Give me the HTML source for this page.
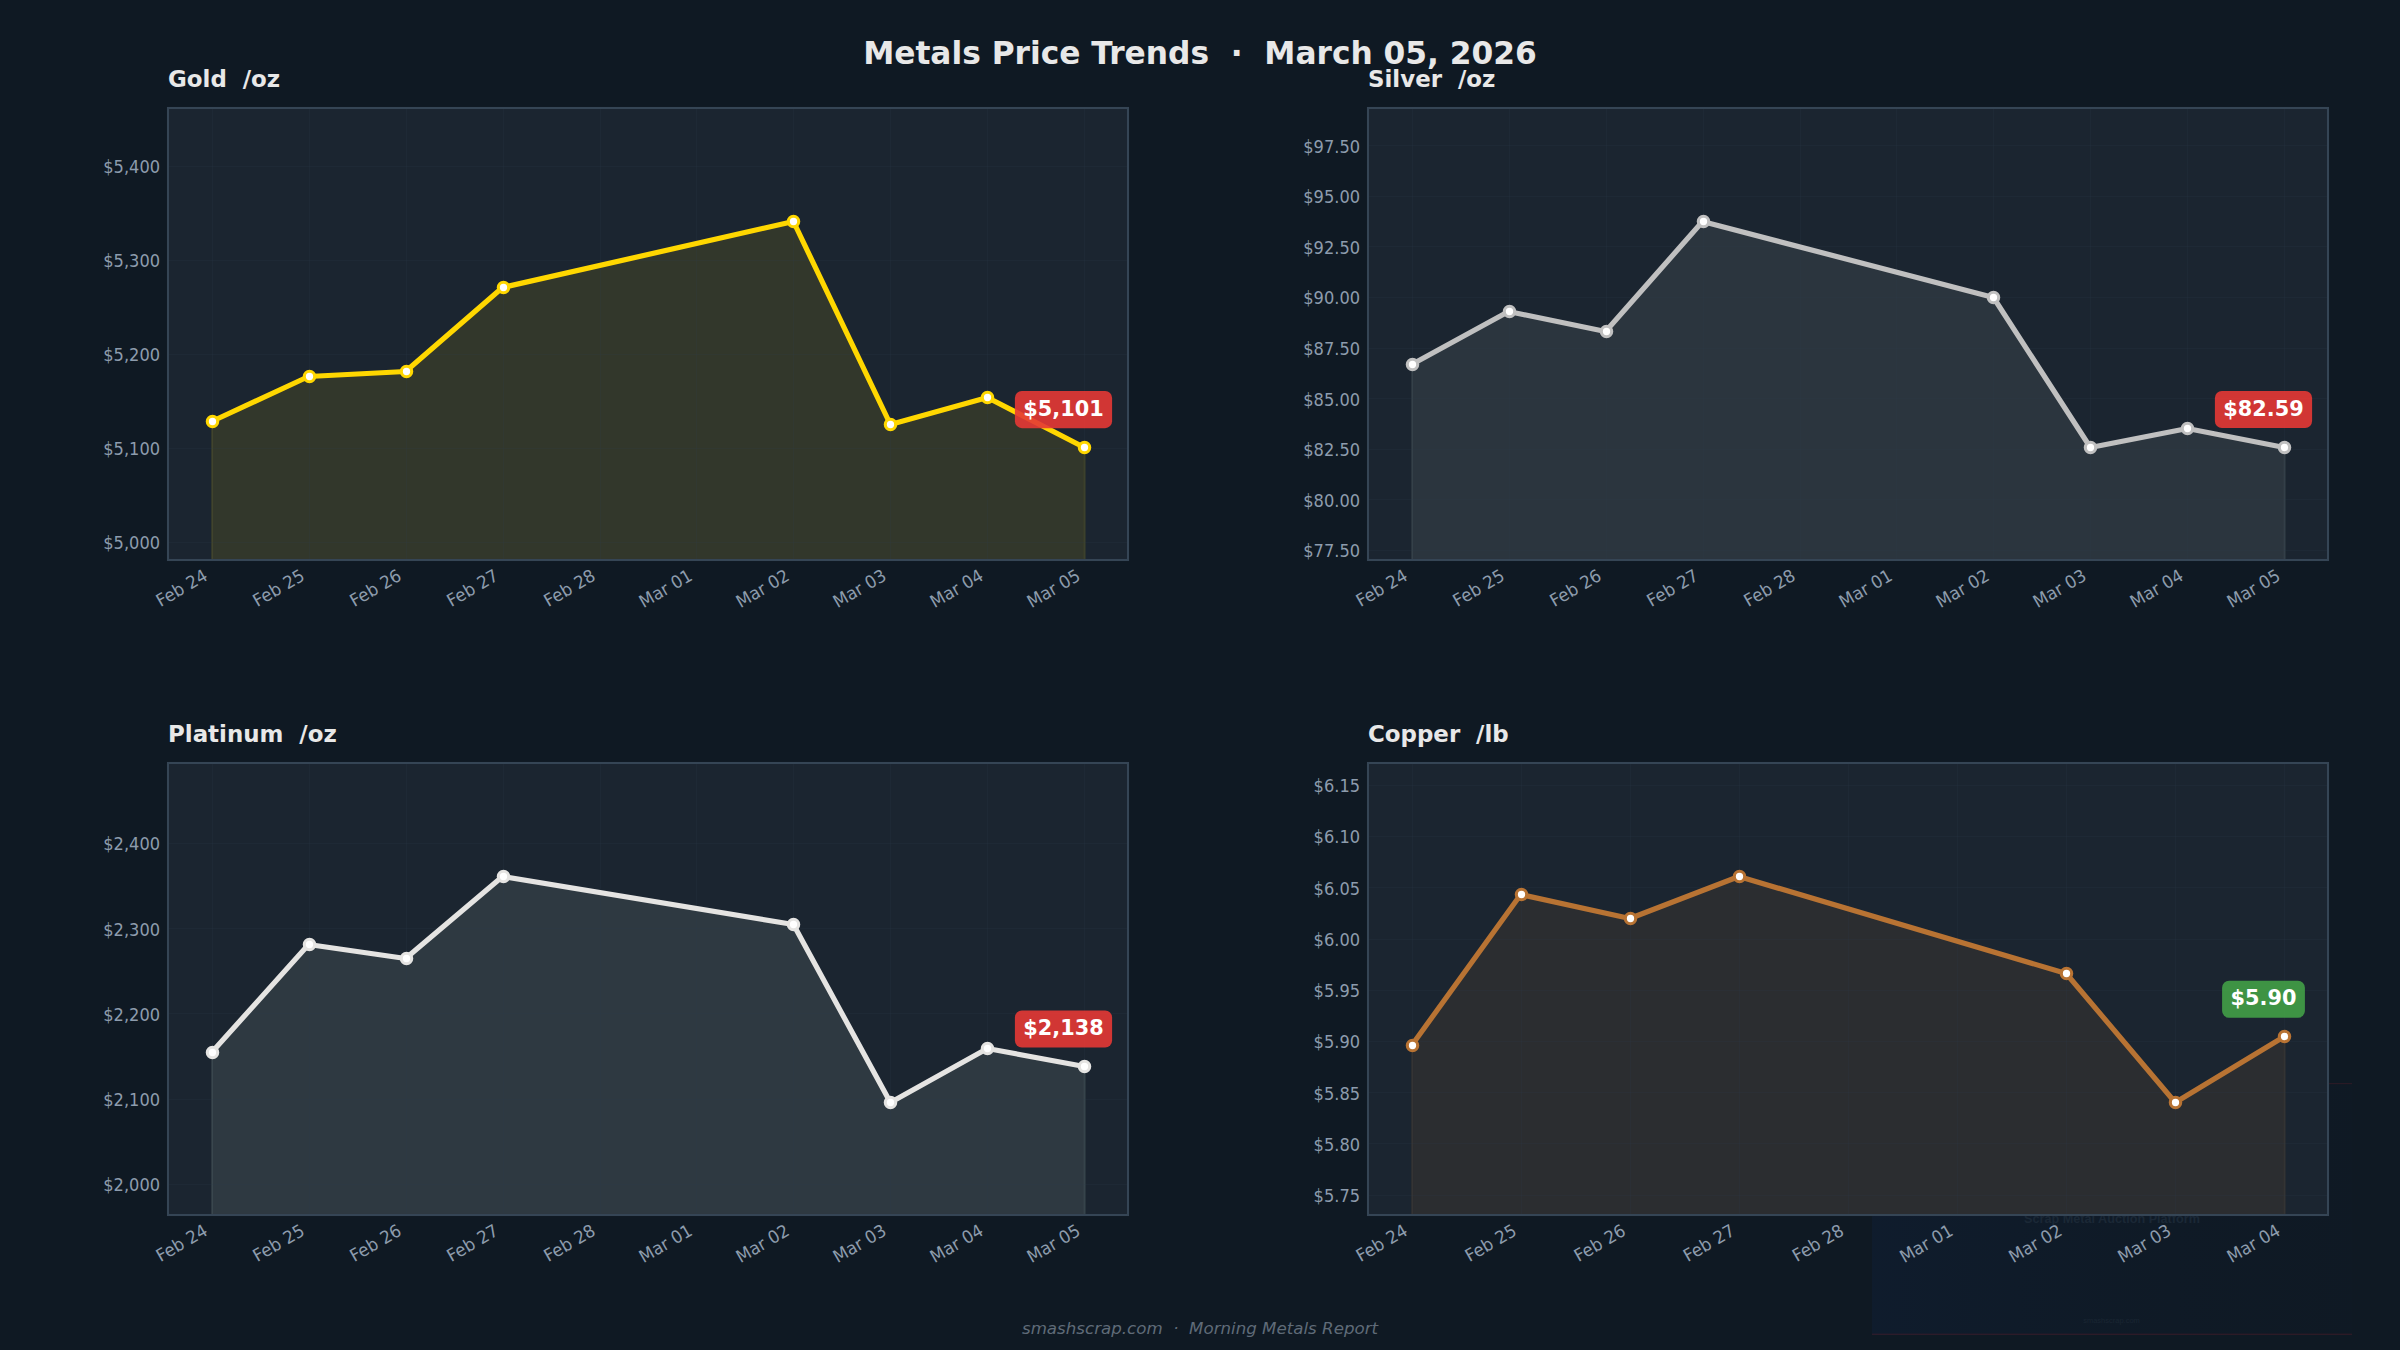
<!DOCTYPE html>
<html lang="en"><head><meta charset="utf-8"><title>Metals Price Trends</title>
<style>html,body{margin:0;padding:0;background:#0f1923;}body{width:2400px;height:1350px;overflow:hidden;}svg{display:block;}text{white-space:pre;}</style></head>
<body>
<svg width="2400" height="1350" viewBox="0 0 2400 1350" font-family="'DejaVu Sans', 'Liberation Sans', sans-serif">
<rect width="2400" height="1350" fill="#0f1923"/>
<defs><linearGradient id="wm" x1="0" y1="0" x2="1" y2="0"><stop offset="0" stop-color="#0f1d30" stop-opacity="0.75"/><stop offset="0.55" stop-color="#0f1c2c" stop-opacity="0.4"/><stop offset="1" stop-color="#0f1a27" stop-opacity="0.25"/></linearGradient></defs>
<g><rect x="1872" y="1083" width="480" height="252" fill="url(#wm)"/><rect x="1872" y="1083" width="480" height="1.2" fill="#4a1c28" opacity="0.45"/><rect x="1872" y="1333.6" width="480" height="1.4" fill="#4a1c28" opacity="0.5"/><text x="2112" y="1223" text-anchor="middle" font-family="'Liberation Sans', sans-serif" font-size="12.65" font-weight="bold" fill="#1b2836">Scrap Metal Auction Platform</text><text x="2111.5" y="1322.5" text-anchor="middle" font-family="'Liberation Sans', sans-serif" font-size="7.5" fill="#1a2633">smashscrap.com</text></g>
<g id="chart0">
<rect x="168" y="108" width="960" height="452" fill="#1b2530"/>
<clipPath id="cp0"><rect x="168" y="108" width="960" height="452"/></clipPath>
<polygon clip-path="url(#cp0)" points="212.04,560 212.04,421.50 211.64,421.50 308.61,376.50 405.58,371.50 502.55,287.50 793.45,221.50 890.42,424.50 987.39,397.50 1084.36,447.50 1084.76,447.50 1084.76,560" fill="#ffd700" fill-opacity="0.1" stroke="#ffd700" stroke-opacity="0.1" stroke-width="2.08" stroke-linejoin="miter"/>
<path d="M212.5 108V560M309.5 108V560M406.5 108V560M503.5 108V560M600.5 108V560M696.5 108V560M793.5 108V560M890.5 108V560M987.5 108V560M1084.5 108V560M168 542.5H1128M168 448.5H1128M168 354.5H1128M168 260.5H1128M168 166.5H1128" stroke="#2c3e50" stroke-opacity="0.18" stroke-width="1" fill="none"/>
<polyline points="211.64,421.50 308.61,376.50 405.58,371.50 502.55,287.50 793.45,221.50 890.42,424.50 987.39,397.50 1084.36,447.50" fill="none" stroke="#ffd700" stroke-width="5.21" stroke-linejoin="round" stroke-linecap="butt"/>
<circle cx="212.5" cy="421.5" r="5.21" fill="#ffffff" stroke="#ffd700" stroke-width="3.125"/>
<circle cx="309.5" cy="376.5" r="5.21" fill="#ffffff" stroke="#ffd700" stroke-width="3.125"/>
<circle cx="406.5" cy="371.5" r="5.21" fill="#ffffff" stroke="#ffd700" stroke-width="3.125"/>
<circle cx="503.5" cy="287.5" r="5.21" fill="#ffffff" stroke="#ffd700" stroke-width="3.125"/>
<circle cx="793.5" cy="221.5" r="5.21" fill="#ffffff" stroke="#ffd700" stroke-width="3.125"/>
<circle cx="890.5" cy="424.5" r="5.21" fill="#ffffff" stroke="#ffd700" stroke-width="3.125"/>
<circle cx="987.5" cy="397.5" r="5.21" fill="#ffffff" stroke="#ffd700" stroke-width="3.125"/>
<circle cx="1084.5" cy="447.5" r="5.21" fill="#ffffff" stroke="#ffd700" stroke-width="3.125"/>
<rect x="168" y="108" width="960" height="452" fill="none" stroke="#354555" stroke-width="2.08"/>
<rect x="1014.90" y="391.05" width="97.2" height="37.1" rx="7" ry="7" fill="#e53935" fill-opacity="0.9"/>
<text x="1063.50" y="415.70" text-anchor="middle" font-size="20.833" font-weight="bold" fill="#ffffff">$5,101</text>
<text x="168" y="87.0" font-size="22.917" font-weight="bold" fill="#e8e8e8" xml:space="preserve">Gold  /oz</text>
<text transform="translate(160.10,549.40) scale(0.975,1.06)" text-anchor="end" font-size="16.667" fill="#8d9cad">$5,000</text>
<text transform="translate(160.10,455.30) scale(0.975,1.06)" text-anchor="end" font-size="16.667" fill="#8d9cad">$5,100</text>
<text transform="translate(160.10,361.20) scale(0.975,1.06)" text-anchor="end" font-size="16.667" fill="#8d9cad">$5,200</text>
<text transform="translate(160.10,267.10) scale(0.975,1.06)" text-anchor="end" font-size="16.667" fill="#8d9cad">$5,300</text>
<text transform="translate(160.10,173.00) scale(0.975,1.06)" text-anchor="end" font-size="16.667" fill="#8d9cad">$5,400</text>
<text transform="translate(160.38,607.25) rotate(-30) scale(1,1.05)" font-size="16.667" fill="#8d9cad">Feb 24</text>
<text transform="translate(257.35,607.25) rotate(-30) scale(1,1.05)" font-size="16.667" fill="#8d9cad">Feb 25</text>
<text transform="translate(354.32,607.25) rotate(-30) scale(1,1.05)" font-size="16.667" fill="#8d9cad">Feb 26</text>
<text transform="translate(451.29,607.25) rotate(-30) scale(1,1.05)" font-size="16.667" fill="#8d9cad">Feb 27</text>
<text transform="translate(548.26,607.25) rotate(-30) scale(1,1.05)" font-size="16.667" fill="#8d9cad">Feb 28</text>
<text transform="translate(643.55,608.22) rotate(-30) scale(1,1.05)" font-size="16.667" fill="#8d9cad">Mar 01</text>
<text transform="translate(740.52,608.22) rotate(-30) scale(1,1.05)" font-size="16.667" fill="#8d9cad">Mar 02</text>
<text transform="translate(837.49,608.22) rotate(-30) scale(1,1.05)" font-size="16.667" fill="#8d9cad">Mar 03</text>
<text transform="translate(934.46,608.22) rotate(-30) scale(1,1.05)" font-size="16.667" fill="#8d9cad">Mar 04</text>
<text transform="translate(1031.43,608.22) rotate(-30) scale(1,1.05)" font-size="16.667" fill="#8d9cad">Mar 05</text>
</g>
<g id="chart1">
<rect x="1368" y="108" width="960" height="452" fill="#1b2530"/>
<clipPath id="cp1"><rect x="1368" y="108" width="960" height="452"/></clipPath>
<polygon clip-path="url(#cp1)" points="1412.04,560 1412.04,364.50 1411.64,364.50 1508.61,311.50 1605.58,331.50 1702.55,221.50 1993.45,297.50 2090.42,447.50 2187.39,428.50 2284.36,447.50 2284.76,447.50 2284.76,560" fill="rgb(187,197,188)" fill-opacity="0.1" stroke="rgb(187,197,188)" stroke-opacity="0.1" stroke-width="2.08" stroke-linejoin="miter"/>
<path d="M1412.5 108V560M1509.5 108V560M1606.5 108V560M1703.5 108V560M1800.5 108V560M1896.5 108V560M1993.5 108V560M2090.5 108V560M2187.5 108V560M2284.5 108V560M1368 550.5H2328M1368 499.5H2328M1368 449.5H2328M1368 398.5H2328M1368 348.5H2328M1368 297.5H2328M1368 246.5H2328M1368 196.5H2328M1368 145.5H2328" stroke="#2c3e50" stroke-opacity="0.18" stroke-width="1" fill="none"/>
<polyline points="1411.64,364.50 1508.61,311.50 1605.58,331.50 1702.55,221.50 1993.45,297.50 2090.42,447.50 2187.39,428.50 2284.36,447.50" fill="none" stroke="#c0c0c0" stroke-width="5.21" stroke-linejoin="round" stroke-linecap="butt"/>
<circle cx="1412.5" cy="364.5" r="5.21" fill="#ffffff" stroke="#c0c0c0" stroke-width="3.125"/>
<circle cx="1509.5" cy="311.5" r="5.21" fill="#ffffff" stroke="#c0c0c0" stroke-width="3.125"/>
<circle cx="1606.5" cy="331.5" r="5.21" fill="#ffffff" stroke="#c0c0c0" stroke-width="3.125"/>
<circle cx="1703.5" cy="221.5" r="5.21" fill="#ffffff" stroke="#c0c0c0" stroke-width="3.125"/>
<circle cx="1993.5" cy="297.5" r="5.21" fill="#ffffff" stroke="#c0c0c0" stroke-width="3.125"/>
<circle cx="2090.5" cy="447.5" r="5.21" fill="#ffffff" stroke="#c0c0c0" stroke-width="3.125"/>
<circle cx="2187.5" cy="428.5" r="5.21" fill="#ffffff" stroke="#c0c0c0" stroke-width="3.125"/>
<circle cx="2284.5" cy="447.5" r="5.21" fill="#ffffff" stroke="#c0c0c0" stroke-width="3.125"/>
<rect x="1368" y="108" width="960" height="452" fill="none" stroke="#354555" stroke-width="2.08"/>
<rect x="2214.90" y="390.95" width="97.2" height="37.1" rx="7" ry="7" fill="#e53935" fill-opacity="0.9"/>
<text x="2263.50" y="415.60" text-anchor="middle" font-size="20.833" font-weight="bold" fill="#ffffff">$82.59</text>
<text x="1368" y="87.0" font-size="22.917" font-weight="bold" fill="#e8e8e8" xml:space="preserve">Silver  /oz</text>
<text transform="translate(1360.10,557.37) scale(0.975,1.06)" text-anchor="end" font-size="16.667" fill="#8d9cad">$77.50</text>
<text transform="translate(1360.10,506.78) scale(0.975,1.06)" text-anchor="end" font-size="16.667" fill="#8d9cad">$80.00</text>
<text transform="translate(1360.10,456.19) scale(0.975,1.06)" text-anchor="end" font-size="16.667" fill="#8d9cad">$82.50</text>
<text transform="translate(1360.10,405.60) scale(0.975,1.06)" text-anchor="end" font-size="16.667" fill="#8d9cad">$85.00</text>
<text transform="translate(1360.10,355.01) scale(0.975,1.06)" text-anchor="end" font-size="16.667" fill="#8d9cad">$87.50</text>
<text transform="translate(1360.10,304.42) scale(0.975,1.06)" text-anchor="end" font-size="16.667" fill="#8d9cad">$90.00</text>
<text transform="translate(1360.10,253.83) scale(0.975,1.06)" text-anchor="end" font-size="16.667" fill="#8d9cad">$92.50</text>
<text transform="translate(1360.10,203.24) scale(0.975,1.06)" text-anchor="end" font-size="16.667" fill="#8d9cad">$95.00</text>
<text transform="translate(1360.10,152.65) scale(0.975,1.06)" text-anchor="end" font-size="16.667" fill="#8d9cad">$97.50</text>
<text transform="translate(1360.38,607.25) rotate(-30) scale(1,1.05)" font-size="16.667" fill="#8d9cad">Feb 24</text>
<text transform="translate(1457.35,607.25) rotate(-30) scale(1,1.05)" font-size="16.667" fill="#8d9cad">Feb 25</text>
<text transform="translate(1554.32,607.25) rotate(-30) scale(1,1.05)" font-size="16.667" fill="#8d9cad">Feb 26</text>
<text transform="translate(1651.29,607.25) rotate(-30) scale(1,1.05)" font-size="16.667" fill="#8d9cad">Feb 27</text>
<text transform="translate(1748.26,607.25) rotate(-30) scale(1,1.05)" font-size="16.667" fill="#8d9cad">Feb 28</text>
<text transform="translate(1843.55,608.22) rotate(-30) scale(1,1.05)" font-size="16.667" fill="#8d9cad">Mar 01</text>
<text transform="translate(1940.52,608.22) rotate(-30) scale(1,1.05)" font-size="16.667" fill="#8d9cad">Mar 02</text>
<text transform="translate(2037.49,608.22) rotate(-30) scale(1,1.05)" font-size="16.667" fill="#8d9cad">Mar 03</text>
<text transform="translate(2134.46,608.22) rotate(-30) scale(1,1.05)" font-size="16.667" fill="#8d9cad">Mar 04</text>
<text transform="translate(2231.43,608.22) rotate(-30) scale(1,1.05)" font-size="16.667" fill="#8d9cad">Mar 05</text>
</g>
<g id="chart2">
<rect x="168" y="763" width="960" height="452" fill="#1b2530"/>
<clipPath id="cp2"><rect x="168" y="763" width="960" height="452"/></clipPath>
<polygon clip-path="url(#cp2)" points="212.04,1215 212.04,1052.50 211.64,1052.50 308.61,944.50 405.58,958.50 502.55,876.50 793.45,924.50 890.42,1102.50 987.39,1048.50 1084.36,1066.50 1084.76,1066.50 1084.76,1215" fill="rgb(217,237,218)" fill-opacity="0.1" stroke="rgb(217,237,218)" stroke-opacity="0.1" stroke-width="2.08" stroke-linejoin="miter"/>
<path d="M212.5 763V1215M309.5 763V1215M406.5 763V1215M503.5 763V1215M600.5 763V1215M696.5 763V1215M793.5 763V1215M890.5 763V1215M987.5 763V1215M1084.5 763V1215M168 1184.5H1128M168 1099.5H1128M168 1013.5H1128M168 928.5H1128M168 843.5H1128" stroke="#2c3e50" stroke-opacity="0.18" stroke-width="1" fill="none"/>
<polyline points="211.64,1052.50 308.61,944.50 405.58,958.50 502.55,876.50 793.45,924.50 890.42,1102.50 987.39,1048.50 1084.36,1066.50" fill="none" stroke="#e5e4e2" stroke-width="5.21" stroke-linejoin="round" stroke-linecap="butt"/>
<circle cx="212.5" cy="1052.5" r="5.21" fill="#ffffff" stroke="#e5e4e2" stroke-width="3.125"/>
<circle cx="309.5" cy="944.5" r="5.21" fill="#ffffff" stroke="#e5e4e2" stroke-width="3.125"/>
<circle cx="406.5" cy="958.5" r="5.21" fill="#ffffff" stroke="#e5e4e2" stroke-width="3.125"/>
<circle cx="503.5" cy="876.5" r="5.21" fill="#ffffff" stroke="#e5e4e2" stroke-width="3.125"/>
<circle cx="793.5" cy="924.5" r="5.21" fill="#ffffff" stroke="#e5e4e2" stroke-width="3.125"/>
<circle cx="890.5" cy="1102.5" r="5.21" fill="#ffffff" stroke="#e5e4e2" stroke-width="3.125"/>
<circle cx="987.5" cy="1048.5" r="5.21" fill="#ffffff" stroke="#e5e4e2" stroke-width="3.125"/>
<circle cx="1084.5" cy="1066.5" r="5.21" fill="#ffffff" stroke="#e5e4e2" stroke-width="3.125"/>
<rect x="168" y="763" width="960" height="452" fill="none" stroke="#354555" stroke-width="2.08"/>
<rect x="1014.90" y="1010.45" width="97.2" height="37.1" rx="7" ry="7" fill="#e53935" fill-opacity="0.9"/>
<text x="1063.50" y="1035.10" text-anchor="middle" font-size="20.833" font-weight="bold" fill="#ffffff">$2,138</text>
<text x="168" y="742.0" font-size="22.917" font-weight="bold" fill="#e8e8e8" xml:space="preserve">Platinum  /oz</text>
<text transform="translate(160.10,1191.40) scale(0.975,1.06)" text-anchor="end" font-size="16.667" fill="#8d9cad">$2,000</text>
<text transform="translate(160.10,1106.10) scale(0.975,1.06)" text-anchor="end" font-size="16.667" fill="#8d9cad">$2,100</text>
<text transform="translate(160.10,1020.80) scale(0.975,1.06)" text-anchor="end" font-size="16.667" fill="#8d9cad">$2,200</text>
<text transform="translate(160.10,935.50) scale(0.975,1.06)" text-anchor="end" font-size="16.667" fill="#8d9cad">$2,300</text>
<text transform="translate(160.10,850.20) scale(0.975,1.06)" text-anchor="end" font-size="16.667" fill="#8d9cad">$2,400</text>
<text transform="translate(160.38,1262.25) rotate(-30) scale(1,1.05)" font-size="16.667" fill="#8d9cad">Feb 24</text>
<text transform="translate(257.35,1262.25) rotate(-30) scale(1,1.05)" font-size="16.667" fill="#8d9cad">Feb 25</text>
<text transform="translate(354.32,1262.25) rotate(-30) scale(1,1.05)" font-size="16.667" fill="#8d9cad">Feb 26</text>
<text transform="translate(451.29,1262.25) rotate(-30) scale(1,1.05)" font-size="16.667" fill="#8d9cad">Feb 27</text>
<text transform="translate(548.26,1262.25) rotate(-30) scale(1,1.05)" font-size="16.667" fill="#8d9cad">Feb 28</text>
<text transform="translate(643.55,1263.22) rotate(-30) scale(1,1.05)" font-size="16.667" fill="#8d9cad">Mar 01</text>
<text transform="translate(740.52,1263.22) rotate(-30) scale(1,1.05)" font-size="16.667" fill="#8d9cad">Mar 02</text>
<text transform="translate(837.49,1263.22) rotate(-30) scale(1,1.05)" font-size="16.667" fill="#8d9cad">Mar 03</text>
<text transform="translate(934.46,1263.22) rotate(-30) scale(1,1.05)" font-size="16.667" fill="#8d9cad">Mar 04</text>
<text transform="translate(1031.43,1263.22) rotate(-30) scale(1,1.05)" font-size="16.667" fill="#8d9cad">Mar 05</text>
</g>
<g id="chart3">
<rect x="1368" y="763" width="960" height="452" fill="#1b2530"/>
<clipPath id="cp3"><rect x="1368" y="763" width="960" height="452"/></clipPath>
<polygon clip-path="url(#cp3)" points="1412.04,1215 1412.04,1045.50 1411.64,1045.50 1520.73,894.50 1629.82,918.50 1738.91,876.50 2066.18,973.50 2175.27,1102.50 2284.36,1036.50 2284.76,1036.50 2284.76,1215" fill="#b87333" fill-opacity="0.1" stroke="#b87333" stroke-opacity="0.1" stroke-width="2.08" stroke-linejoin="miter"/>
<path d="M1412.5 763V1215M1521.5 763V1215M1630.5 763V1215M1739.5 763V1215M1848.5 763V1215M1957.5 763V1215M2066.5 763V1215M2175.5 763V1215M2284.5 763V1215M1368 1195.5H2328M1368 1143.5H2328M1368 1092.5H2328M1368 1041.5H2328M1368 990.5H2328M1368 939.5H2328M1368 887.5H2328M1368 836.5H2328M1368 785.5H2328" stroke="#2c3e50" stroke-opacity="0.18" stroke-width="1" fill="none"/>
<polyline points="1411.64,1045.50 1520.73,894.50 1629.82,918.50 1738.91,876.50 2066.18,973.50 2175.27,1102.50 2284.36,1036.50" fill="none" stroke="#b87333" stroke-width="5.21" stroke-linejoin="round" stroke-linecap="butt"/>
<circle cx="1412.5" cy="1045.5" r="5.21" fill="#ffffff" stroke="#b87333" stroke-width="3.125"/>
<circle cx="1521.5" cy="894.5" r="5.21" fill="#ffffff" stroke="#b87333" stroke-width="3.125"/>
<circle cx="1630.5" cy="918.5" r="5.21" fill="#ffffff" stroke="#b87333" stroke-width="3.125"/>
<circle cx="1739.5" cy="876.5" r="5.21" fill="#ffffff" stroke="#b87333" stroke-width="3.125"/>
<circle cx="2066.5" cy="973.5" r="5.21" fill="#ffffff" stroke="#b87333" stroke-width="3.125"/>
<circle cx="2175.5" cy="1102.5" r="5.21" fill="#ffffff" stroke="#b87333" stroke-width="3.125"/>
<circle cx="2284.5" cy="1036.5" r="5.21" fill="#ffffff" stroke="#b87333" stroke-width="3.125"/>
<rect x="1368" y="763" width="960" height="452" fill="none" stroke="#354555" stroke-width="2.08"/>
<rect x="2222.10" y="980.75" width="82.8" height="37.1" rx="7" ry="7" fill="#43a047" fill-opacity="0.9"/>
<text x="2263.50" y="1005.40" text-anchor="middle" font-size="20.833" font-weight="bold" fill="#ffffff">$5.90</text>
<text x="1368" y="742.0" font-size="22.917" font-weight="bold" fill="#e8e8e8" xml:space="preserve">Copper  /lb</text>
<text transform="translate(1360.10,1201.95) scale(0.975,1.06)" text-anchor="end" font-size="16.667" fill="#8d9cad">$5.75</text>
<text transform="translate(1360.10,1150.74) scale(0.975,1.06)" text-anchor="end" font-size="16.667" fill="#8d9cad">$5.80</text>
<text transform="translate(1360.10,1099.53) scale(0.975,1.06)" text-anchor="end" font-size="16.667" fill="#8d9cad">$5.85</text>
<text transform="translate(1360.10,1048.32) scale(0.975,1.06)" text-anchor="end" font-size="16.667" fill="#8d9cad">$5.90</text>
<text transform="translate(1360.10,997.11) scale(0.975,1.06)" text-anchor="end" font-size="16.667" fill="#8d9cad">$5.95</text>
<text transform="translate(1360.10,945.90) scale(0.975,1.06)" text-anchor="end" font-size="16.667" fill="#8d9cad">$6.00</text>
<text transform="translate(1360.10,894.69) scale(0.975,1.06)" text-anchor="end" font-size="16.667" fill="#8d9cad">$6.05</text>
<text transform="translate(1360.10,843.48) scale(0.975,1.06)" text-anchor="end" font-size="16.667" fill="#8d9cad">$6.10</text>
<text transform="translate(1360.10,792.27) scale(0.975,1.06)" text-anchor="end" font-size="16.667" fill="#8d9cad">$6.15</text>
<text transform="translate(1360.38,1262.25) rotate(-30) scale(1,1.05)" font-size="16.667" fill="#8d9cad">Feb 24</text>
<text transform="translate(1469.47,1262.25) rotate(-30) scale(1,1.05)" font-size="16.667" fill="#8d9cad">Feb 25</text>
<text transform="translate(1578.56,1262.25) rotate(-30) scale(1,1.05)" font-size="16.667" fill="#8d9cad">Feb 26</text>
<text transform="translate(1687.65,1262.25) rotate(-30) scale(1,1.05)" font-size="16.667" fill="#8d9cad">Feb 27</text>
<text transform="translate(1796.74,1262.25) rotate(-30) scale(1,1.05)" font-size="16.667" fill="#8d9cad">Feb 28</text>
<text transform="translate(1904.15,1263.22) rotate(-30) scale(1,1.05)" font-size="16.667" fill="#8d9cad">Mar 01</text>
<text transform="translate(2013.24,1263.22) rotate(-30) scale(1,1.05)" font-size="16.667" fill="#8d9cad">Mar 02</text>
<text transform="translate(2122.34,1263.22) rotate(-30) scale(1,1.05)" font-size="16.667" fill="#8d9cad">Mar 03</text>
<text transform="translate(2231.43,1263.22) rotate(-30) scale(1,1.05)" font-size="16.667" fill="#8d9cad">Mar 04</text>
</g>
<text x="1200" y="64.3" text-anchor="middle" font-size="31.25" font-weight="bold" fill="#e8e8e8" xml:space="preserve">Metals Price Trends  ·  March 05, 2026</text>
<text x="1200" y="1334.3" text-anchor="middle" font-size="16.667" font-style="italic" fill="#5f6b78" xml:space="preserve">smashscrap.com  ·  Morning Metals Report</text>
</svg>
</body></html>
